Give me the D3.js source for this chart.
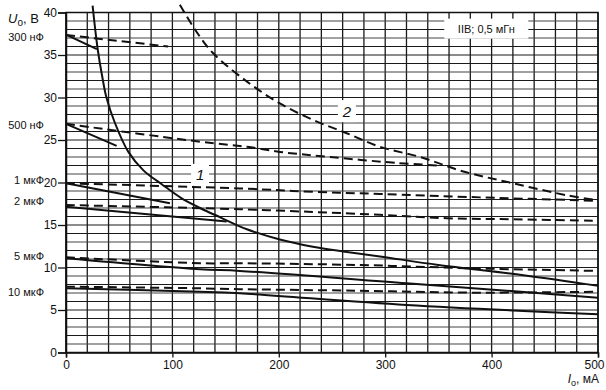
<!DOCTYPE html>
<html>
<head>
<meta charset="utf-8">
<script src="https://cdn.jsdelivr.net/npm/d3@7"></script>
<style>
  body { margin: 0; background: #fff; }
  text { font-family: "Liberation Sans", Arial, sans-serif; fill: #111; }
</style>
</head>
<body>
<div id="chart"></div>
<script>
// axis ticks
const xTicks = [0, 100, 200, 300, 400, 500];
const yTicks = [0, 5, 10, 15, 20, 25, 30, 35, 40];

// limit curves (I, mA ; U, V)
const curve1 = [[25, 40.8], [27, 38.5], [30, 35.5], [34, 32.5], [38, 30], [46, 27.0], [58.6, 23.6], [73, 21.4],
  [90, 19.8], [108, 18.2], [126, 17.0], [145, 15.9], [170, 14.5], [201, 13.3], [232, 12.45], [260, 11.9],
  [295, 11.3], [350, 10.3], [430, 9.1], [500, 7.85]];
const curve2 = [[107, 40.9], [122.8, 37.7], [138.4, 35.2], [169.8, 31.9], [201, 29.3], [232.4, 27.35],
  [263.8, 25.8], [295, 24.2], [332.7, 23.0], [373.4, 21.3], [420.4, 19.9], [470.6, 18.5], [500, 17.9]];

// capacitance lines: solid and dashed
const c300Solid = [[0, 37.4], [29, 35.7]];
const c300Dash = [[0, 37.35], [96, 36.0]];
const c500Solid = [[0, 26.9], [47.6, 24.3]];
const c500Dash = [[0, 26.9], [126, 24.8], [170, 24.2], [201, 23.6], [248, 23.0], [311, 22.3], [350, 22.0]];
const c1Solid = [[0, 19.9], [97.7, 17.55]];
const c1Dash = [[0, 19.9], [163.5, 19.3], [232, 18.9], [295, 18.65], [389, 18.25], [500, 17.85]];
const c2Solid = [[0, 17.15], [151, 15.4]];
const c2Dash = [[0, 17.35], [163.5, 16.85], [295, 16.2], [357.8, 15.8], [420.4, 15.67], [500, 15.5]];
const c5Solid = [[0, 11.1], [126, 9.8], [163.5, 9.6], [320, 8.15], [500, 6.45]];
const c5Dash = [[0, 11.2], [126, 10.5], [163.5, 10.5], [273, 10.3], [383, 9.9], [500, 9.6]];
const c10Solid = [[0, 7.55], [126, 7.15], [163.5, 6.96], [320, 5.6], [500, 4.5]];
const c10Dash = [[0, 7.75], [126, 7.55], [163.5, 7.45], [273, 7.27], [383, 7.04], [500, 7.15]];

// capacitance labels on the left and where they sit (U, V)
const capLabels = ["300 нФ", "500 нФ", "1 мкФ", "2 мкФ", "5 мкФ", "10 мкФ"];
const capLabelU = [37.1, 26.8, 20.3, 17.75, 11.35, 7.05];

const W = 606, H = 390;
const svg = d3.select('#chart').append('svg')
  .attr('width', W)
  .attr('height', H);

const x = d3.scaleLinear().domain([0, 500]).range([66, 598]);
const y = d3.scaleLinear().domain([0, 40]).range([352.5, 12.5]);

// grid: every 20 mA and every 1 V
const grid = svg.append('g').attr('class', 'grid');
grid.selectAll('line.v')
  .data(d3.range(0, 501, 20))
  .enter().append('line')
  .attr('x1', d => x(d)).attr('x2', d => x(d))
  .attr('y1', y(0)).attr('y2', y(40))
  .attr('stroke', '#1a1a1a')
  .attr('stroke-width', 1.3);
grid.selectAll('line.h')
  .data(d3.range(0, 41, 1))
  .enter().append('line')
  .attr('x1', x(0)).attr('x2', x(500))
  .attr('y1', d => y(d)).attr('y2', d => y(d))
  .attr('stroke', (d, i) => (d % 5 === 0 || i % 2 === 0) ? '#1a1a1a' : '#444')
  .attr('stroke-width', 1.2);

// axes
const xAxis = svg.append('g')
  .attr('transform', `translate(0,${y(0)})`)
  .call(d3.axisBottom(x).tickValues(xTicks).tickSize(5).tickPadding(3));
const yAxis = svg.append('g')
  .attr('transform', `translate(${x(0)},0)`)
  .call(d3.axisLeft(y).tickValues(yTicks).tickSize(8).tickPadding(1));
[xAxis, yAxis].forEach(a => {
  a.select('.domain').attr('stroke', '#111').attr('stroke-width', 1.5);
  a.selectAll('.tick line').attr('stroke', '#111').attr('stroke-width', 1.3);
  a.selectAll('.tick text').attr('font-size', 12).style('fill', '#111')
    .attr('font-family', '"Liberation Sans", Arial, sans-serif');
});
// last x label sits at the page edge
xAxis.selectAll('.tick text').filter(d => d === 500).attr('text-anchor', 'end').attr('dx', 6);

// frame top / right
svg.append('rect')
  .attr('x', x(0)).attr('y', y(40))
  .attr('width', x(500) - x(0)).attr('height', y(0) - y(40))
  .attr('fill', 'none').attr('stroke', '#111').attr('stroke-width', 1.5);

// curves
const line = d3.line().x(d => x(d[0])).y(d => y(d[1])).curve(d3.curveCatmullRom.alpha(0.5));
const series = [
  { data: curve1, dash: null },
  { data: curve2, dash: '9,5' },
  { data: c300Solid, dash: null }, { data: c300Dash, dash: '9,5' },
  { data: c500Solid, dash: null }, { data: c500Dash, dash: '9,5' },
  { data: c1Solid, dash: null }, { data: c1Dash, dash: '9,5' },
  { data: c2Solid, dash: null }, { data: c2Dash, dash: '9,5' },
  { data: c5Solid, dash: null }, { data: c5Dash, dash: '9,5' },
  { data: c10Solid, dash: null }, { data: c10Dash, dash: '9,5' }
];
svg.append('g').selectAll('path')
  .data(series)
  .enter().append('path')
  .attr('d', d => line(d.data))
  .attr('fill', 'none')
  .attr('stroke', '#111')
  .attr('stroke-width', 2)
  .attr('stroke-dasharray', d => d.dash);

// curve numbers
function tag(txt, xv, yv) {
  const g = svg.append('g').attr('transform', `translate(${x(xv)},${y(yv)})`);
  g.append('rect').attr('x', -9).attr('y', -11).attr('width', 18).attr('height', 22).attr('fill', '#fff');
  g.append('text').attr('text-anchor', 'middle').attr('dy', '0.36em')
    .attr('font-size', 15).attr('font-style', 'italic').text(txt);
}
tag('1', 126, 20.9);
tag('2', 264, 28.4);

// legend box
const lg = svg.append('g').attr('transform', `translate(${x(395)},${y(38.1)})`);
lg.append('rect').attr('x', -42).attr('y', -10).attr('width', 84).attr('height', 20).attr('fill', '#fff');
lg.append('text').attr('text-anchor', 'middle').attr('dy', '0.36em').attr('font-size', 11)
  .text('IIВ; 0,5 мГн');

// capacitance labels
svg.append('g').selectAll('text')
  .data(capLabels)
  .enter().append('text')
  .attr('x', 44)
  .attr('y', (d, i) => y(capLabelU[i]))
  .attr('dy', '0.35em')
  .attr('text-anchor', 'end')
  .attr('font-size', 11)
  .text(d => d);

// axis titles
const yt = svg.append('text').attr('x', 8).attr('y', 23).attr('font-size', 13);
yt.append('tspan').attr('font-style', 'italic').text('U');
yt.append('tspan').attr('font-size', 10).attr('dy', 3).text('o');
yt.append('tspan').attr('dy', -3).text(', В');

const xt = svg.append('text').attr('x', 599).attr('y', 383).attr('font-size', 12).attr('text-anchor', 'end');
xt.append('tspan').attr('font-style', 'italic').text('I');
xt.append('tspan').attr('font-size', 9).attr('dy', 3).text('o');
xt.append('tspan').attr('dy', -3).text(', мА');
</script>
</body>
</html>
